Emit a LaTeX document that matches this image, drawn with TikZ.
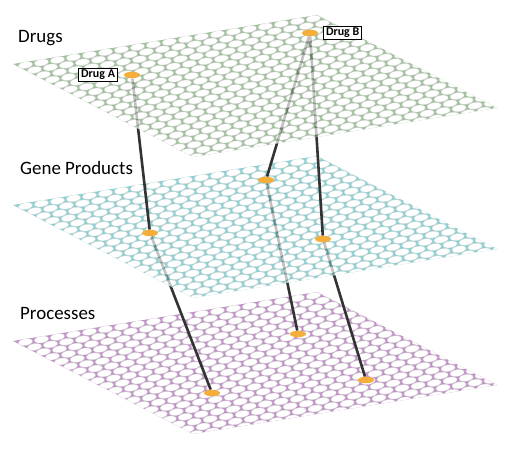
\documentclass[tikz,border=0pt]{standalone}
\usepackage{fontspec}
\setmainfont{Carlito}
\usetikzlibrary{shapes.geometric,positioning}

\definecolor{druggreen}{HTML}{7AA575}
\definecolor{genecyan}{HTML}{5BBDBD}
\definecolor{procpurple}{HTML}{A865B1}
\definecolor{huborange}{HTML}{F6AE3A}

\pgfdeclarelayer{bgC}
\pgfdeclarelayer{linkB}
\pgfdeclarelayer{bgB}
\pgfdeclarelayer{linkA}
\pgfdeclarelayer{bgA}
\pgfsetlayers{bgC,linkB,bgB,linkA,bgA,main}

\tikzset{
  cell/.style={fill=white, draw=black!22, line width=0.35bp},
  hub/.style={ellipse, fill=huborange, minimum width=16bp, minimum height=6.5bp, inner sep=0pt},
  link/.style={line width=2.6bp, draw=black!80},
  tag/.style={draw, fill=white, line width=0.6bp, font=\bfseries\fontsize{12}{12}\selectfont, inner xsep=2.5bp, inner ysep=1.5bp},
  layername/.style={anchor=base west, inner sep=0pt, font=\fontsize{19}{19}\selectfont}
}

% one sheet of the stack, moved down by #1
\newcommand{\gridlayer}[2]{
  \begin{scope}[shift={(0,#1)}, transparency group, opacity=0.7]
    \fill[#2] (13,64) -- (317,15) -- (497,108) -- (193,157) -- cycle;
    \clip (13,64) -- (317,15) -- (497,108) -- (193,157) -- cycle;
    \begin{scope}[shift={(13,64)}, rotate=9.16]
      \foreach \j in {0,...,19}
        \foreach \i in {-1,...,19}
          \draw[cell] ({(\i+.5)*16.2+(\j+.5)*8.1},{(\j+.5)*6.2}) ellipse [x radius=7.1bp, y radius=3.3bp];
    \end{scope}
  \end{scope}
}

\begin{document}
\begin{tikzpicture}[x=1bp, y=-1bp]
    \useasboundingbox (0,0) rectangle (505,450);
    \begin{pgfonlayer}{bgA}\gridlayer{0}{druggreen}\end{pgfonlayer}
    \begin{pgfonlayer}{bgB}\gridlayer{141}{genecyan}\end{pgfonlayer}
    \begin{pgfonlayer}{bgC}\gridlayer{277}{procpurple}\end{pgfonlayer}

    \node[hub] (D1) at (132,75) {};
    \node[hub] (D2) at (310,33) {};
    \node[hub] (G1) at (150,233) {};
    \node[hub] (G2) at (266,180) {};
    \node[hub] (G3) at (323,239) {};
    \node[hub] (P1) at (212,393) {};
    \node[hub] (P2) at (298,334) {};
    \node[hub] (P3) at (366,380) {};

    \node[tag, left=6bp of D1] (tagA) {Drug A};
    \node[tag, right=5bp of D2] (tagB) {Drug B};

    \node[layername] (drugs) at (18,43) {Drugs};
    \node[layername] (genes) at (20,175) {Gene Products};
    \node[layername] (procs) at (20,319) {Processes};

    \begin{pgfonlayer}{linkA}
        \draw[link] (D1) -- (G1);
        \draw[link] (D2) -- (G2);
        \draw[link] (D2) -- (G3);
    \end{pgfonlayer}
    \begin{pgfonlayer}{linkB}
        \draw[link] (G1) -- (P1);
        \draw[link] (G2) -- (P2);
        \draw[link] (G3) -- (P3);
    \end{pgfonlayer}
\end{tikzpicture}
\end{document}
